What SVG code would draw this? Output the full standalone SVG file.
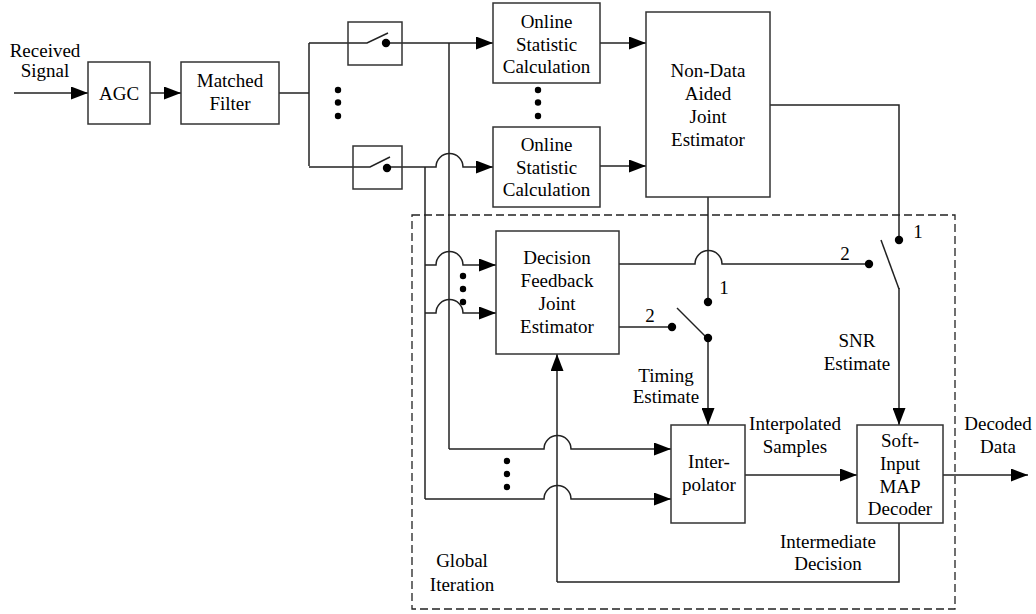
<svg xmlns="http://www.w3.org/2000/svg" width="1036" height="614" viewBox="0 0 1036 614">
<style>
text{font-size:19px;fill:#000;text-anchor:middle}
.box{fill:#fff;stroke:#333;stroke-width:1.5}
.sw{fill:none;stroke:#333;stroke-width:1.5}
.ln{fill:none;stroke:#222;stroke-width:1.5}
.arr{fill:none;stroke:#222;stroke-width:1.5;marker-end:url(#ah)}
.dot{fill:#000}
.dash{fill:none;stroke:#222;stroke-width:1.3;stroke-dasharray:8 4}
</style>
<defs>
<marker id="ah" viewBox="0 0 17 13" refX="17" refY="6.5" markerWidth="17" markerHeight="13" markerUnits="userSpaceOnUse" orient="auto">
<path d="M0,0 L17,6.5 L0,13 Z" fill="#000"/>
</marker>
</defs>
<rect width="1036" height="614" fill="#fff"/>

<rect id="global-iteration" class="dash" x="412" y="215" width="543" height="394"/>

<g id="connectors">
<path class="arr" d="M14,93 H88"/>
<path class="arr" d="M150,93 H181"/>
<path class="ln" d="M279,93 H309"/>
<path class="ln" d="M309,43 V166"/>
<path class="ln" d="M309,43 H367 L388,33"/>
<path class="ln" d="M309,167 H370 L390,157"/>
<path class="arr" d="M386,43 H493"/>
<path class="arr" d="M387,167 H436 A13.5,13.5 0 0 1 463,167 H493"/>
<path class="arr" d="M600,43 H646"/>
<path class="arr" d="M600,166 H646"/>
<path class="ln" d="M449,43 V449"/>
<path class="ln" d="M425,167 V499"/>
<path class="arr" d="M425,265 H436 A13.5,13.5 0 0 1 463,265 H496"/>
<path class="arr" d="M425,313 H436 A13.5,13.5 0 0 1 463,313 H496"/>
<path class="arr" d="M449,449 H544 A13.5,13.5 0 0 1 571,449 H671"/>
<path class="arr" d="M425,499 H544 A13.5,13.5 0 0 1 571,499 H671"/>
<path class="ln" d="M770,105 H899 V240"/>
<path class="ln" d="M708,197 V302"/>
<path class="ln" d="M619,264 H695 A13.5,13.5 0 0 1 722,264 H869"/>
<path class="ln" d="M619,327 H672"/>
<path class="ln" d="M677,308 L708,339"/>
<path class="arr" d="M708,338 V425"/>
<path class="ln" d="M881,240 L899,289"/>
<path class="arr" d="M899,288 V425"/>
<path class="arr" d="M745,475 H857"/>
<path class="arr" d="M943,475 H1028"/>
<path class="ln" d="M899,523 V582 H557"/>
<path class="arr" d="M557,582 V354"/>
<circle class="dot" cx="386" cy="43" r="4.2"/>
<circle class="dot" cx="387" cy="168" r="4.2"/>
<circle class="dot" cx="708" cy="302" r="4.2"/>
<circle class="dot" cx="672" cy="327" r="4.2"/>
<circle class="dot" cx="708" cy="338" r="4.2"/>
<circle class="dot" cx="899" cy="240" r="4.2"/>
<circle class="dot" cx="869" cy="264" r="4.2"/>
<circle class="dot" cx="338" cy="90" r="3.2"/>
<circle class="dot" cx="338" cy="102.5" r="3.2"/>
<circle class="dot" cx="338" cy="116" r="3.2"/>
<circle class="dot" cx="538" cy="90" r="3.2"/>
<circle class="dot" cx="538" cy="102.5" r="3.2"/>
<circle class="dot" cx="538" cy="116" r="3.2"/>
<circle class="dot" cx="463" cy="276" r="3.2"/>
<circle class="dot" cx="463" cy="289" r="3.2"/>
<circle class="dot" cx="463" cy="302" r="3.2"/>
<circle class="dot" cx="507" cy="461" r="3.2"/>
<circle class="dot" cx="507" cy="474" r="3.2"/>
<circle class="dot" cx="507" cy="487" r="3.2"/>
</g>

<g font-family="'Liberation Serif', 'Times New Roman', Times, serif">
<g id="switch1"><rect class="sw" x="348" y="22" width="54" height="43"/></g>
<g id="switch2"><rect class="sw" x="353" y="146" width="49" height="43"/></g>

<g id="agc"><rect class="box" x="88" y="62" width="62" height="62"/><text x="119" y="99.5">AGC</text></g>
<g id="matched-filter"><rect class="box" x="181" y="62" width="98" height="62"/><text x="230" y="87">Matched</text><text x="230" y="110">Filter</text></g>
<g id="online1"><rect class="box" x="493" y="3" width="107" height="80"/><text x="546.5" y="28">Online</text><text x="546.5" y="50.5">Statistic</text><text x="546.5" y="73">Calculation</text></g>
<g id="online2"><rect class="box" x="493" y="127" width="107" height="80"/><text x="546.5" y="151">Online</text><text x="546.5" y="173.5">Statistic</text><text x="546.5" y="196">Calculation</text></g>
<g id="nda"><rect class="box" x="646" y="12" width="124" height="185"/><text x="708" y="77">Non-Data</text><text x="708" y="100">Aided</text><text x="708" y="123">Joint</text><text x="708" y="146">Estimator</text></g>
<g id="dfje"><rect class="box" x="496" y="231" width="123" height="123"/><text x="557" y="264">Decision</text><text x="557" y="287">Feedback</text><text x="557" y="310">Joint</text><text x="557" y="333">Estimator</text></g>
<g id="interpolator"><rect class="box" x="671" y="425" width="74" height="98"/><text x="709" y="468">Inter-</text><text x="709" y="491">polator</text></g>
<g id="decoder"><rect class="box" x="857" y="425" width="86" height="98"/><text x="900" y="447">Soft-</text><text x="900" y="470">Input</text><text x="900" y="492.5">MAP</text><text x="900" y="515">Decoder</text></g>

<g id="labels">
<text x="45" y="57">Received</text><text x="45" y="77">Signal</text>
<text x="650" y="322">2</text><text x="724" y="294">1</text>
<text x="845" y="260">2</text><text x="918" y="238">1</text>
<text x="666" y="382">Timing</text><text x="666" y="403">Estimate</text>
<text x="857" y="347">SNR</text><text x="857" y="370">Estimate</text>
<text x="795" y="430">Interpolated</text><text x="795" y="453">Samples</text>
<text x="998" y="430">Decoded</text><text x="998" y="453">Data</text>
<text x="828" y="548">Intermediate</text><text x="828" y="570">Decision</text>
<text x="462" y="567">Global</text><text x="462" y="591">Iteration</text>
</g>
</g>
</svg>
